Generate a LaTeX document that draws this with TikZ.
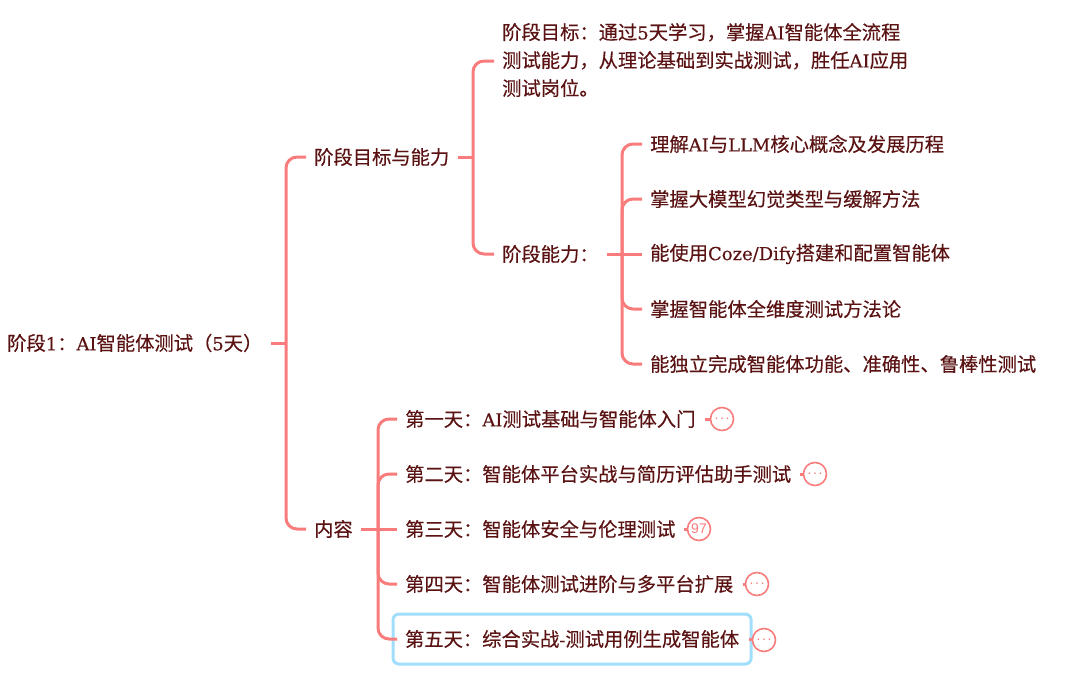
\documentclass[tikz,border=0pt]{standalone}
\usepackage{fontspec}
\setmainfont{Noto Sans CJK SC}[FakeBold=0.25]
\newfontfamily\latfont{DejaVu Serif}[Scale=0.93,FakeBold=0.25]
\newfontfamily\markfont{Liberation Sans}
\newcommand\lat[1]{{\latfont #1}}
\newcommand\folded{.\kern1.6pt.\kern1.6pt.}
\definecolor{linkred}{HTML}{F97C7C}
\definecolor{inkred}{HTML}{5A1212}
\definecolor{boxblue}{HTML}{A0DEFB}
\tikzset{
  topic/.style={font=\fontsize{19.3}{28}\selectfont,text=inkred,anchor=west,inner xsep=8pt,inner ysep=0pt,align=left},
  link/.style={draw=linkred,line width=3pt,rounded corners=11pt},
  stem/.style={draw=linkred,line width=3pt},
  collapsed/.style={circle,draw=linkred,line width=1.6pt,minimum size=23pt,inner sep=0pt,fill=white,text=linkred,font=\markfont\fontsize{14}{14}\selectfont},
  stub/.style={draw=linkred,line width=3pt},
  picked/.style={draw=boxblue,line width=3pt,rounded corners=6pt,inner ysep=0pt,inner xsep=12pt,minimum height=50pt},
}
\begin{document}
\begin{tikzpicture}[x=1pt,y=-1pt]
\path[use as bounding box,fill=white] (0,0) rectangle (1080,680);
% nodes
\node[topic] (root) at (-1,343) {阶段\lat{1}：\lat{AI}智能体测试（\lat{5}天）};
\node[topic] (goalcap) at (306,157) {阶段目标与能力};
\node[topic] (content) at (306,529) {内容};
\node[topic] (goal) at (494,60) {阶段目标：通过\lat{5}天学习，掌握\lat{AI}智能体全流程\\测试能力，从理论基础到实战测试，胜任\lat{AI}应用\\测试岗位。};
\node[topic] (cap) at (494,254) {阶段能力：};
\node[topic] (c1) at (642,144) {理解\lat{AI}与\lat{LLM}核心概念及发展历程};
\node[topic] (c2) at (642,199) {掌握大模型幻觉类型与缓解方法};
\node[topic] (c3) at (642,254) {能使用\lat{Coze/Dify}搭建和配置智能体};
\node[topic] (c4) at (642,309) {掌握智能体全维度测试方法论};
\node[topic] (c5) at (642,364) {能独立完成智能体功能、准确性、鲁棒性测试};
\node[topic] (d1) at (397,419) {第一天：\lat{AI}测试基础与智能体入门};
\node[topic] (d2) at (397,474) {第二天：智能体平台实战与简历评估助手测试};
\node[topic] (d3) at (397,529) {第三天：智能体安全与伦理测试};
\node[topic] (d4) at (397,584) {第四天：智能体测试进阶与多平台扩展};
\node[topic,picked] (d5) at (391.5,639) {第五天：综合实战\lat{-}测试用例生成智能体};
\node[collapsed] (m1) at (722,419) {\folded};
\node[collapsed] (m2) at (815,474) {\folded};
\node[collapsed] (m3) at (699,529) {97};
\node[collapsed] (m4) at (757,584) {\folded};
\node[collapsed] (m5) at (764,640) {\folded};
% hubs
\coordinate (h0) at (286,343);
\coordinate (h1) at (473,157);
\coordinate (h2) at (622,254);
\coordinate (h3) at (378,529);
% connectors
\draw[stem] (root.east) -- (h0);
\draw[link] (h0) |- (goalcap.west);
\draw[link] (h0) |- (content.west);
\draw[stem] (goalcap.east) -- (h1);
\draw[link] (h1) |- ([yshift=-1pt]goal.west);
\draw[link] (h1) |- (cap.west);
\draw[stem] (cap.east) -- (h2);
\draw[link] (h2) |- (c1.west);
\draw[link] (h2) |- (c2.west);
\draw[stem] (h2) -- (c3.west);
\draw[link] (h2) |- (c4.west);
\draw[link] (h2) |- (c5.west);
\draw[stem] (content.east) -- (h3);
\draw[link] (h3) |- (d1.west);
\draw[link] (h3) |- (d2.west);
\draw[stem] (h3) -- (d3.west);
\draw[link] (h3) |- (d4.west);
\draw[link] (h3) |- ([xshift=5.5pt]d5.west);
\draw[stub] ([xshift=1pt]d1.east) -- (m1.west);
\draw[stub] ([xshift=1pt]d2.east) -- (m2.west);
\draw[stub] (d3.east) -- (m3.west);
\draw[stub] ([xshift=1pt]d4.east) -- (m4.west);
\draw[stub] ([xshift=-3.5pt]d5.east) -- (m5.west);
\end{tikzpicture}
\end{document}
